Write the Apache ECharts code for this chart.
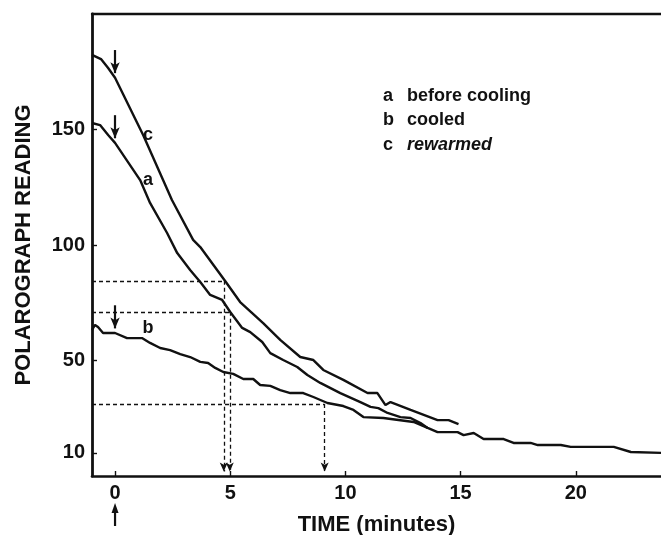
<!DOCTYPE html>
<html><head><meta charset="utf-8">
<script src="https://cdn.jsdelivr.net/npm/echarts@6/dist/echarts.min.js"></script>
<style>html,body{margin:0;padding:0;background:#fff}#c{width:661px;height:535px}</style>
</head><body><div id="c"></div>
<script>
// ---- data ----
const curveKeys = ['a', 'b', 'c'];
const curveNames = ['before cooling', 'cooled', 'rewarmed'];

const timeA = [-1,-0.65,-0.30,0,1.09,1.52,2.26,2.70,3.26,3.70,4.13,4.65,5.0,5.52,5.87,6.39,6.74,7.30,7.91,8.35,8.91,9.78,10.65,11.09,11.43,11.83,12.39,12.83,13.26,13.57];
const readA = [152.8,151.9,147.6,144.2,128.1,118.2,105.2,96.5,89.2,84.0,78.4,76.2,71.0,64.1,62.3,58.0,53.2,50.2,47.2,43.7,40.3,35.9,32.0,29.9,29.4,27.3,25.5,25.1,22.9,20.8];

const timeB = [-1,-0.87,-0.74,-0.52,0,0.52,1.17,1.52,1.96,2.39,2.83,3.26,3.70,4.04,4.35,4.70,5.13,5.57,6.0,6.30,6.74,7.17,7.61,8.17,8.61,9.22,9.91,10.35,10.78,11.65,12.96,13.57,14.0,14.87,15.13,15.57,16.0,16.87,17.30,18.04,18.35,19.35,19.78,21.65,22.39,23.7];
const readB = [63.2,65.4,64.5,61.9,61.9,59.7,59.7,57.6,55.4,54.5,52.8,51.5,49.4,48.9,46.8,45.0,44.2,42.0,42.0,39.4,39.0,37.2,35.9,35.9,34.2,31.6,30.3,28.6,25.5,25.1,23.4,20.8,19.0,19.0,17.7,18.6,16.0,16.0,14.3,14.3,13.4,13.4,12.6,12.6,10.4,10.0];

const timeC = [-1,-0.61,-0.30,0,1.22,2.47,3.39,3.70,4.78,5.43,6.43,7.17,8.04,8.61,9.04,9.91,10.96,11.39,11.74,11.96,12.83,14.0,14.48,14.91];
const readC = [182.3,180.5,176.6,172.4,147.6,119.5,102.2,99.1,84.4,75.3,66.2,58.9,51.5,50.2,45.9,41.6,35.9,35.9,30.7,32.0,28.6,24.2,24.2,22.5];

const xTicks = [0, 5, 10, 15, 20];
const yTicks = [10, 50, 100, 150];

// half-reading construction lines
const halfCurve = ['c', 'a', 'b'];
const halfReading = [84.5, 71.1, 31.2];
const halfTime = [4.72, 4.98, 9.1];

// curve letter labels
const labelTime = [1.43, 1.43, 1.43];
const labelReading = [128.1, 64.1, 147.6];

const injectTime = 0;
const xMin = -1, xMax = 23.7, yMin = 0, yMax = 200;

// ---- chart ----
const black = '#111';
const FONT = '"Liberation Sans", Arial, Helvetica, sans-serif';
const curves = { a: [timeA, readA], b: [timeB, readB], c: [timeC, readC] };
const zip = (t, v) => t.map((x, i) => [x, v[i]]);

const chart = echarts.init(document.getElementById('c'));

const series = curveKeys.map(k => {
  const [t, v] = curves[k];
  const at0 = v[t.indexOf(injectTime)];
  const ml = [
    [{ coord: [injectTime, at0 + 12], symbol: 'none' },
     { coord: [injectTime, at0 + 2], symbol: 'arrow', symbolSize: [7, 11] }]
  ];
  halfCurve.forEach((hk, i) => {
    if (hk !== k) return;
    const dashed = { color: black, width: 1.3, type: [4, 3] };
    ml.push([{ coord: [xMin, halfReading[i]], symbol: 'none', lineStyle: dashed },
             { coord: [halfTime[i], halfReading[i]], symbol: 'none' }]);
    ml.push([{ coord: [halfTime[i], halfReading[i]], symbol: 'none', lineStyle: dashed },
             { coord: [halfTime[i], yMin + 2], symbol: 'arrow', symbolSize: [6, 9] }]);
  });
  return {
    type: 'line', name: k, data: zip(t, v), showSymbol: false, symbol: 'none',
    lineStyle: { color: black, width: 2.4 }, silent: true, animation: false,
    markLine: {
      silent: true, animation: false, label: { show: false },
      lineStyle: { color: black, width: 2.2, type: 'solid' },
      emphasis: { disabled: true },
      data: ml
    }
  };
});

const labelStyle = { color: black, fontSize: 20, fontWeight: 'bold', fontFamily: FONT };

chart.setOption({
  animation: false,
  backgroundColor: '#fff',
  grid: { left: 92, right: 0, top: 14, bottom: 59, containLabel: false, outerBoundsMode: 'none' },
  xAxis: [{
    type: 'value', min: xMin, max: xMax, position: 'bottom',
    axisLine: { show: true, onZero: false, lineStyle: { color: black, width: 2.6 } },
    axisTick: { show: true, inside: true, length: 5, customValues: xTicks, lineStyle: { color: black, width: 1.4 } },
    axisLabel: Object.assign({ customValues: xTicks, margin: 7 }, labelStyle),
    splitLine: { show: false },
    name: 'TIME (minutes)', nameLocation: 'middle', nameGap: 38,
    nameTextStyle: { color: black, fontSize: 22, fontWeight: 'bold', fontFamily: FONT }
  }, {
    type: 'value', min: xMin, max: xMax, position: 'top',
    axisLine: { show: true, onZero: false, lineStyle: { color: black, width: 2.4 } },
    axisTick: { show: false }, axisLabel: { show: false }, splitLine: { show: false }
  }],
  yAxis: {
    type: 'value', min: yMin, max: yMax, position: 'left',
    axisLine: { show: true, onZero: false, lineStyle: { color: black, width: 2.8 } },
    axisTick: { show: true, inside: true, length: 5, customValues: yTicks, lineStyle: { color: black, width: 1.4 } },
    axisLabel: Object.assign({ customValues: yTicks, margin: 7 }, labelStyle),
    splitLine: { show: false },
    name: 'POLAROGRAPH READING', nameLocation: 'middle', nameGap: 57, nameRotate: 90,
    nameTextStyle: { color: black, fontSize: 22, fontWeight: 'bold', fontFamily: FONT }
  },
  series: series
});

// annotations
const g = [];
curveKeys.forEach((k, i) => {
  g.push({ type: 'text', left: 383, top: 87 + i * 24.5, silent: true,
    style: { text: k, font: 'bold 18px ' + FONT, fill: black } });
  g.push({ type: 'text', left: 407, top: 87 + i * 24.5, silent: true,
    style: { text: curveNames[i], font: (k === 'c' ? 'italic ' : '') + 'bold 18px ' + FONT, fill: black } });
  const p = chart.convertToPixel({ xAxisIndex: 0, yAxisIndex: 0 }, [labelTime[i], labelReading[i]]);
  g.push({ type: 'text', x: p[0], y: p[1], silent: true,
    style: { text: k, font: 'bold 18px ' + FONT, fill: black, align: 'center', verticalAlign: 'middle' } });
});
const x0 = chart.convertToPixel({ xAxisIndex: 0 }, injectTime);
g.push({ type: 'line', silent: true, shape: { x1: x0, y1: 526, x2: x0, y2: 510 }, style: { stroke: black, lineWidth: 2.2 } });
g.push({ type: 'polygon', silent: true, shape: { points: [[x0, 503], [x0 - 3.5, 513], [x0 + 3.5, 513]] }, style: { fill: black } });
chart.setOption({ graphic: g });
</script>
</body></html>
